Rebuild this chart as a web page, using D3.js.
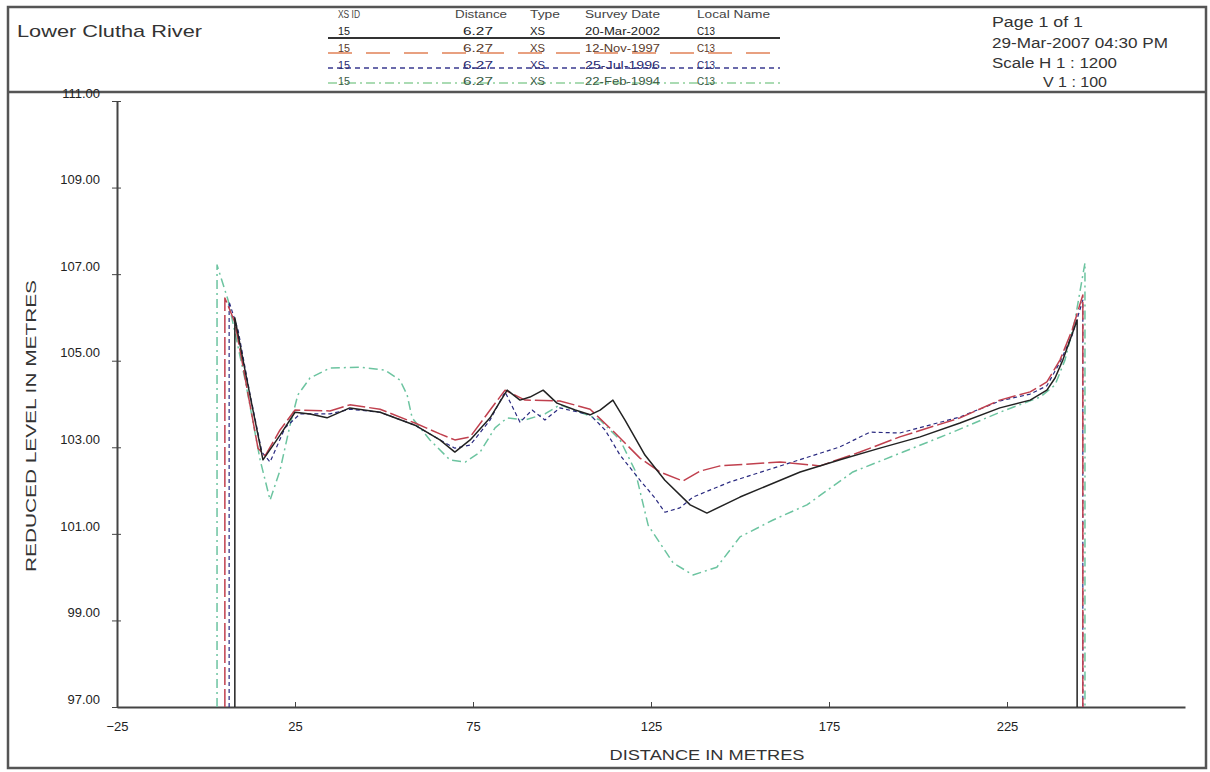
<!DOCTYPE html>
<html>
<head>
<meta charset="utf-8">
<script src="https://d3js.org/d3.v7.min.js"></script>
<style>
  body { margin:0; background:#fff; }
  svg { display:block; font-family:"Liberation Sans", Arial, sans-serif; }
  .axis .tick text { fill:#222; font-size:13px; }
  .axis path, .axis line { stroke:#444; }
</style>
</head>
<body>
<div id="container"></div>
<script>

// ---- data: [distance (m), reduced level (m)] ----
var xs2002 = [[8.1,97],[8.1,105.99],[11.5,104.55],[16.0,102.71],[20.8,103.28],[25.0,103.81],[29.2,103.77],
  [34.0,103.68],[40.4,103.91],[48.9,103.81],[58.7,103.51],[65.7,103.17],[69.9,102.89],[74.2,103.17],
  [79.8,103.68],[84.6,104.32],[88.2,104.09],[91.0,104.16],[94.7,104.32],[98.6,104.02],[103.7,103.86],
  [107.9,103.75],[110.7,103.86],[114.3,104.09],[117.7,103.63],[123.3,102.82],[128.9,102.24],[136.0,101.67],
  [140.7,101.48],[150.0,101.85],[159.3,102.17],[166.9,102.43],[178.1,102.71],[189.3,102.98],[200.6,103.24],
  [211.8,103.56],[223.0,103.91],[231.5,104.09],[236.2,104.32],[238.5,104.60],[240.7,105.02],[242.7,105.48],
  [244.7,105.94],[244.7,97]];

var xs1997 = [[5.3,97],[5.3,106.45],[8.1,105.89],[11.5,104.37],[14.6,102.98],[16.6,102.80],[20.8,103.40],
  [25.0,103.86],[34.8,103.84],[40.4,103.98],[48.9,103.88],[58.7,103.56],[65.7,103.31],[69.9,103.17],
  [74.2,103.24],[79.8,103.86],[84.0,104.32],[89.6,104.09],[99.4,104.07],[107.9,103.88],[114.9,103.33],
  [121.9,102.75],[127.5,102.43],[134.0,102.22],[138.8,102.45],[144.4,102.57],[161.2,102.66],[172.5,102.57],
  [183.7,102.89],[194.9,103.24],[211.8,103.68],[223.0,104.09],[231.5,104.28],[236.2,104.51],[239.9,105.02],
  [243.3,105.71],[246.3,106.52],[246.3,97]];

var xs1996 = [[6.5,97],[6.5,106.36],[9.0,105.71],[12.4,104.21],[15.7,102.89],[18.0,102.66],[22.2,103.45],
  [26.4,103.77],[34.8,103.77],[40.4,103.88],[48.9,103.81],[58.7,103.51],[65.7,103.17],[69.9,102.98],
  [74.2,103.05],[79.8,103.63],[84.0,104.28],[88.2,103.58],[91.6,103.86],[95.2,103.63],[99.4,103.91],
  [107.9,103.75],[112.1,103.40],[116.3,102.82],[121.9,102.24],[126.1,101.83],[128.9,101.50],[133.1,101.60],
  [136.8,101.85],[147.2,102.20],[164.0,102.64],[178.1,103.01],[186.5,103.35],[194.9,103.33],[211.8,103.70],
  [223.0,104.07],[231.5,104.23],[236.2,104.42],[239.9,104.97],[243.3,105.59],[246.3,106.40],[246.3,97]];

var xs1994 = [[3.1,97],[3.1,107.21],[6.2,106.40],[11.0,104.55],[15.2,102.71],[18.0,101.78],[20.8,102.47],
  [23.6,103.51],[25.8,104.21],[29.2,104.60],[34.8,104.83],[43.3,104.85],[50.3,104.78],[54.5,104.55],
  [56.5,104.21],[57.9,103.68],[62.9,103.17],[68.5,102.71],[72.8,102.66],[77.0,102.89],[81.2,103.45],
  [84.6,103.68],[89.6,103.63],[95.2,103.77],[99.4,103.98],[105.1,103.81],[110.7,103.63],[116.3,103.17],
  [120.5,102.47],[124.2,101.20],[131.2,100.33],[136.8,100.05],[143.5,100.23],[150.0,100.93],[159.3,101.32],
  [168.8,101.67],[181.7,102.43],[195.8,102.89],[209.8,103.35],[223.0,103.81],[234.3,104.16],[238.5,104.44],
  [241.3,105.02],[244.1,105.94],[246.9,107.26],[246.9,97]];

var xTicks = [-25, 25, 75, 125, 175, 225];
var yTicks = [97, 99, 101, 103, 105, 107, 109, 111];

// legend table
var legendHeads = ["XS ID", "Distance", "Type", "Survey Date", "Local Name"];
var xsIds = ["15", "15", "15", "15"];
var distances = ["6.27", "6.27", "6.27", "6.27"];
var types = ["XS", "XS", "XS", "XS"];
var surveyDates = ["20-Mar-2002", "12-Nov-1997", "25-Jul-1996", "22-Feb-1994"];
var localNames = ["C13", "C13", "C13", "C13"];

var title = "Lower Clutha River";
var pageInfo = ["Page 1 of 1", "29-Mar-2007 04:30 PM", "Scale H 1 : 1200", "V 1 : 100"];

// ---- drawing ----
var width = 1210, height = 772;

var svg = d3.select("#container").append("svg")
    .attr("width", width)
    .attr("height", height);

function label(g, str, x, y, size, len, anchor, color) {
  var t = g.append("text")
      .attr("x", x).attr("y", y)
      .attr("font-size", size)
      .attr("fill", color || "#333")
      .text(str);
  if (anchor) t.attr("text-anchor", anchor);
  if (len) t.attr("textLength", len).attr("lengthAdjust", "spacingAndGlyphs");
  return t;
}

// frame + header divider
svg.append("rect")
    .attr("x", 8).attr("y", 7).attr("width", 1198).attr("height", 761)
    .attr("fill", "none").attr("stroke", "#555").attr("stroke-width", 2.5);
svg.append("line")
    .attr("x1", 8).attr("x2", 1206).attr("y1", 92).attr("y2", 92)
    .attr("stroke", "#555").attr("stroke-width", 2.5);

// header
label(svg, title, 17, 37, 17, 185);
label(svg, pageInfo[0], 992, 27, 14, 91);
label(svg, pageInfo[1], 992, 48, 14, 176);
label(svg, pageInfo[2], 992, 68, 14, 125);
label(svg, pageInfo[3], 1043, 87, 14, 64);

// legend table
var colX = [338, 455, 530, 585, 697];
var headW = [22, 52, 30, 75, 73];
var leg = svg.append("g");
legendHeads.forEach(function(h, i) { label(leg, h, colX[i], 18, 10, headW[i], null, "#444"); });

var rowStyle = [
  {c:"#333", w:2, dash:null, t:"#222"},
  {c:"#e8a080", w:2, dash:"24,14", t:"#5a3a2a"},
  {c:"#3a3a90", w:1.5, dash:"5,4", t:"#2a2a70"},
  {c:"#8fcf9a", w:1.5, dash:"9,4,2,4", t:"#3a5a44"}
];
var rowY = [35, 52, 69, 85];
var lineY = [38, 53, 68, 83];
surveyDates.forEach(function(d, i) {
  var s = rowStyle[i];
  leg.append("line")
      .attr("x1", 328).attr("x2", 780).attr("y1", lineY[i]).attr("y2", lineY[i])
      .attr("stroke", s.c).attr("stroke-width", s.w)
      .attr("stroke-dasharray", s.dash);
  label(leg, xsIds[i], 338, rowY[i], 10.5, 12, null, s.t);
  label(leg, distances[i], 463, rowY[i], 10.5, 30, null, s.t);
  label(leg, types[i], 530, rowY[i], 10.5, 15, null, s.t);
  label(leg, d, 585, rowY[i], 10.5, 75, null, s.t);
  label(leg, localNames[i], 697, rowY[i], 10.5, 18, null, s.t);
});

// scales
var x = d3.scaleLinear().domain([-25, 275]).range([117, 1185]);
var y = d3.scaleLinear().domain([97, 111]).range([707, 101]);

// axes
var xAxis = svg.append("g")
    .attr("class", "axis")
    .attr("transform", "translate(0," + y(97) + ")")
    .call(d3.axisBottom(x).tickValues(xTicks).tickSizeInner(-5).tickSizeOuter(0).tickPadding(15));
xAxis.select(".domain").attr("stroke-width", 2);

var yAxis = svg.append("g")
    .attr("class", "axis")
    .attr("transform", "translate(" + x(-25) + ",0)")
    .call(d3.axisLeft(y).tickValues(yTicks).tickFormat(d3.format(".2f")).tickSizeInner(5).tickSizeOuter(0).tickPadding(12));
yAxis.select(".domain").attr("stroke-width", 2);
yAxis.selectAll(".tick text").attr("y", -8);
yAxis.selectAll(".tick").append("line").attr("x2", 4).attr("stroke", "#444");

// axis titles
label(svg, "DISTANCE IN METRES", 707, 760, 15, 195, "middle");
label(svg, "REDUCED LEVEL IN METRES", 0, 0, 15, 292, "middle")
    .attr("transform", "translate(36,426) rotate(-90)");

// cross sections
var line = d3.line()
    .x(function(d) { return x(d[0]); })
    .y(function(d) { return y(d[1]); });

var series = [
  {data: xs1994, c:"#6cc4a0", w:1.5, dash:"9,4,2,4"},
  {data: xs1996, c:"#2a2a80", w:1.2, dash:"4,3"},
  {data: xs1997, c:"#c0404e", w:1.5, dash:"18,4"},
  {data: xs2002, c:"#222", w:1.5, dash:null}
];

svg.append("g").selectAll("path")
    .data(series)
  .enter().append("path")
    .attr("d", function(s) { return line(s.data); })
    .attr("fill", "none")
    .attr("stroke", function(s) { return s.c; })
    .attr("stroke-width", function(s) { return s.w; })
    .attr("stroke-dasharray", function(s) { return s.dash; })
    .attr("stroke-linejoin", "round");

</script>
</body>
</html>
